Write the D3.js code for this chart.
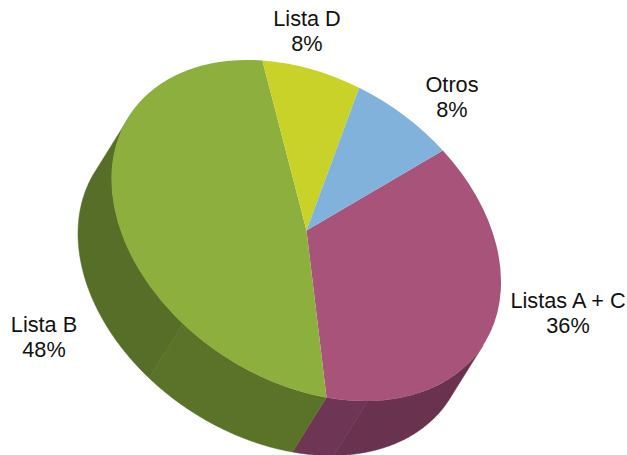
<!DOCTYPE html>
<html><head><meta charset="utf-8">
<script src="https://cdn.jsdelivr.net/npm/d3@7"></script>
<style>html,body{margin:0;padding:0;background:#fff}svg{display:block}text{font-family:"Liberation Sans",Arial,sans-serif;font-size:21.7px;fill:#111;text-anchor:middle}</style>
</head><body><script>
const categories = ["Listas A + C","Lista B","Lista D","Otros"];
const values = [36,48,8,8];
const topColors = ["#A8537A","#8DAF3E","#C8D229","#80B2DB"];
const labelX = [568,44,307,452];
const labelY = [308,332,26,92];
const lineGap = 24.5;

const W=627,H=455, cx=306.5, cy=230.5;
const rad=Math.PI/180;
// affine map of the unit pie onto the tilted ellipse
const m={a:194.5,b:51.4,c:0,d:162.6};
const depth={x:-34,y:54.5};
const visible=[114.8*rad,294.8*rad];
// faint facets on the rim: break angles for each slice and their shades
const facetBreaks = [[161.6],[219.4],[],[]];
const facetColors = [["#693350","#6F3555"],["#5B7229","#576E28"],[],[]];

const svg=d3.select("body").append("svg").attr("width",W).attr("height",H);
const pie=d3.pie().sort(null).value(d=>d).startAngle(44.5*rad).endAngle((44.5+360)*rad);
const slices=pie(values);
const px=a=>cx+m.a*Math.sin(a)+m.c*(-Math.cos(a));
const py=a=>cy+m.b*Math.sin(a)+m.d*(-Math.cos(a));
const band=d3.area().x0(a=>px(a)).y0(a=>py(a)).x1(a=>px(a)+depth.x).y1(a=>py(a)+depth.y);

const sides=svg.append("g");
slices.forEach((s,i)=>{
  const from=Math.max(s.startAngle,visible[0]), to=Math.min(s.endAngle,visible[1]);
  if(from>=to) return;
  const stops=[from,...facetBreaks[i].map(d=>d*rad),to];
  for(let k=0;k<stops.length-1;k++){
    const as=d3.range(stops[k],stops[k+1],0.01).concat([stops[k+1]]);
    sides.append("path").attr("d",band(as)).attr("fill",facetColors[i][k]).attr("stroke",facetColors[i][k]).attr("stroke-width",0.5);
  }
});
const arc=d3.arc().innerRadius(0).outerRadius(1);
svg.append("g").attr("transform",`matrix(${m.a},${m.b},${m.c},${m.d},${cx},${cy})`)
 .selectAll("path").data(slices).join("path").attr("d",arc).attr("fill",(d,i)=>topColors[i]);
const lab=svg.append("g");
categories.forEach((c,i)=>{
  lab.append("text").attr("x",labelX[i]).attr("y",labelY[i]).text(c);
  lab.append("text").attr("x",labelX[i]).attr("y",labelY[i]+lineGap).text(values[i]+"%");
});
</script></body></html>
